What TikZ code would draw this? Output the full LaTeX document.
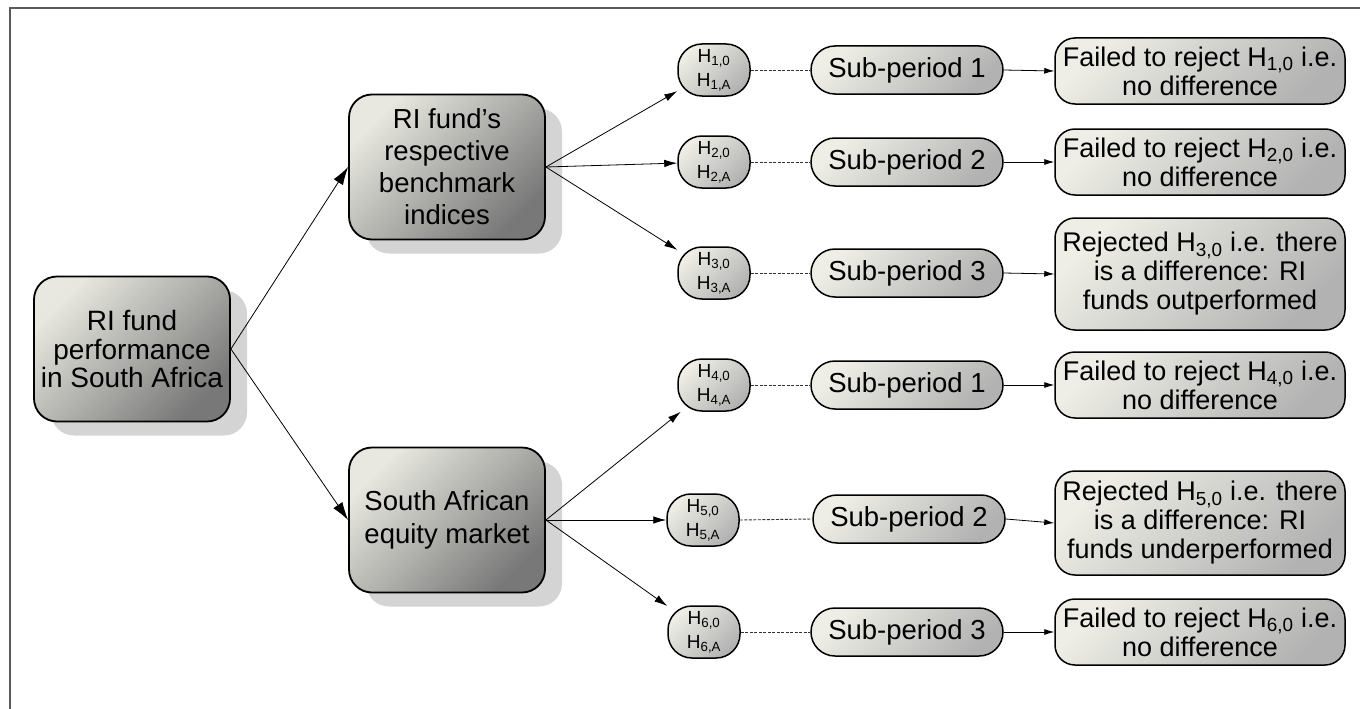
\documentclass[tikz,border=0pt]{standalone}
\usepackage{fontspec}
\setmainfont{Liberation Sans}
\usetikzlibrary{shadows,arrows.meta}
\definecolor{bigl}{HTML}{E8E8E0}
\definecolor{bigd}{HTML}{787878}
\definecolor{smll}{HTML}{EEEEE6}
\definecolor{smld}{HTML}{B2B2B2}
\definecolor{shad}{HTML}{D4D4D4}
\definecolor{framec}{HTML}{5A5A5A}
\newcommand{\Hsub}[1]{H\textsubscript{#1}}
\begin{document}
\begin{tikzpicture}[x=1pt,y=-1pt,
  bigbox/.style={draw=black, line width=1.8pt, rounded corners=23pt,
    top color=bigl, bottom color=bigd, shading angle=45,
    minimum width=196pt, minimum height=145pt, align=center, inner sep=0pt,
    general shadow={fill=shad, shadow xshift=17pt, shadow yshift=-14pt}},
  hbox/.style={draw=black, line width=1.5pt, rounded corners=24pt,
    top color=smll, bottom color=smld, shading angle=45,
    minimum width=72pt, minimum height=52pt, align=center, inner sep=0pt,
    font=\fontsize{19}{24}\selectfont},
  subbox/.style={draw=black, line width=1.5pt, rounded corners=24pt,
    top color=smll, bottom color=smld, shading angle=45,
    minimum width=192pt, minimum height=48pt, align=center, inner sep=0pt,
    font=\fontsize{27.5}{29}\selectfont},
  resbox/.style={draw=black, line width=1.5pt, rounded corners=20pt,
    top color=smll, bottom color=smld, shading angle=45,
    minimum width=290pt, align=center, inner sep=0pt,
    font=\fontsize{27}{29}\selectfont},
  bigarrow/.style={line width=0.8pt, -{Latex[length=18pt,width=11pt]}},
  midarrow/.style={line width=0.8pt, -{Latex[length=13pt,width=7.5pt]}},
  smallarrow/.style={line width=0.8pt, -{Latex[length=10pt,width=6pt]}},
  dashlink/.style={draw=black!80, line width=0.9pt, dash pattern=on 3pt off 1.5pt}
]
\useasboundingbox (0,0) rectangle (1360,709);
\draw[framec, line width=1.5pt] (10,709) -- (10,8) -- (1360,8);

\node[bigbox, font=\fontsize{28}{28.5}\selectfont] (root) at (132,349) {RI fund\\performance\\in South Africa};
\node[bigbox, font=\fontsize{27.5}{32}\selectfont] (bench) at (447,167) {RI fund’s\\respective\\benchmark\\indices};
\node[bigbox, font=\fontsize{27.5}{33}\selectfont] (equity) at (447,520) {South African\\equity market};

\node[hbox] (h1) at (714,70) {\Hsub{1,0}\\\Hsub{1,A}};
\node[hbox] (h2) at (714,162) {\Hsub{2,0}\\\Hsub{2,A}};
\node[hbox] (h3) at (714,273) {\Hsub{3,0}\\\Hsub{3,A}};
\node[hbox] (h4) at (714,385) {\Hsub{4,0}\\\Hsub{4,A}};
\node[hbox] (h5) at (703,520) {\Hsub{5,0}\\\Hsub{5,A}};
\node[hbox] (h6) at (704,632) {\Hsub{6,0}\\\Hsub{6,A}};

\node[subbox] (s1) at (907,70) {Sub-period 1};
\node[subbox] (s2) at (907,162) {Sub-period 2};
\node[subbox] (s3) at (907,273) {Sub-period 3};
\node[subbox] (s4) at (907,385) {Sub-period 1};
\node[subbox] (s5) at (909,519) {Sub-period 2};
\node[subbox] (s6) at (907,632) {Sub-period 3};

\node[resbox, minimum height=66pt] (r1) at (1200,71) {Failed to reject \Hsub{1,0} i.e.\\no difference};
\node[resbox, minimum height=66pt] (r2) at (1200,162) {Failed to reject \Hsub{2,0} i.e.\\no difference};
\node[resbox, minimum height=112pt] (r3) at (1200,274) {Rejected \Hsub{3,0} i.e. there\\is a difference: RI\\funds outperformed};
\node[resbox, minimum height=66pt] (r4) at (1200,385) {Failed to reject \Hsub{4,0} i.e.\\no difference};
\node[resbox, minimum height=104pt] (r5) at (1200,523) {Rejected \Hsub{5,0} i.e. there\\is a difference: RI\\funds underperformed};
\node[resbox, minimum height=66pt] (r6) at (1200,632) {Failed to reject \Hsub{6,0} i.e.\\no difference};

\draw[bigarrow] (root.east) -- (bench.west);
\draw[bigarrow] (root.east) -- (equity.west);

\foreach \i in {1,2,3} \draw[midarrow] (bench.east) -- (h\i);
\foreach \i in {4,5,6} \draw[midarrow] (equity.east) -- (h\i);

\foreach \i in {1,...,6} {
  \draw[dashlink] (h\i.east) -- (s\i.west);
  \draw[smallarrow] (s\i.east) -- (r\i.west);
}
\end{tikzpicture}
\end{document}
